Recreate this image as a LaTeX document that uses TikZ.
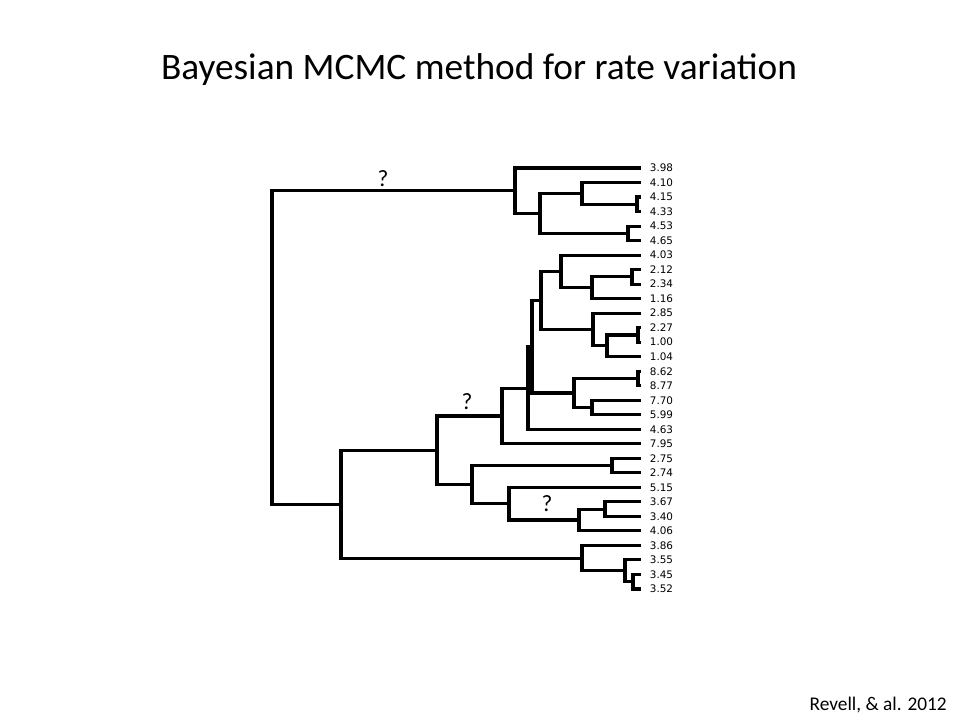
\documentclass[tikz,border=0pt]{standalone}
\usepackage{fontspec}
\setmainfont{Carlito}
\newfontfamily\tipfont{DejaVu Sans}
\usepackage{tikz}
\usetikzlibrary{positioning}

\begin{document}
\begin{tikzpicture}
[
	x=0.75pt, y=-0.75pt,
	node distance = 6.5pt,
	branch/.style={line width=2.3pt, line join=miter},
	tiplab/.style={inner sep=0pt, font=\tipfont\fontsize{7.8}{9}\selectfont},
	qmark/.style={anchor=base, inner sep=0pt, font=\fontsize{17.5}{20}\selectfont},
	title/.style={anchor=base, inner sep=0pt, font=\fontsize{28}{33}\selectfont}
  ]
	\useasboundingbox (0,0) rectangle (960,720);

	\node[title] (Title) at (479,80) {Bayesian MCMC method for rate variation};
	\node[anchor=base east, inner sep=0pt, font=\fontsize{14.5}{17}\selectfont] (Ref) at (947,710) {Revell, \& al. 2012};

	% tips and their values
	\foreach \lab [count=\i] in {3.98,4.10,4.15,4.33,4.53,4.65,4.03,2.12,2.34,1.16,2.85,2.27,1.00,1.04,8.62,8.77,7.70,5.99,4.63,7.95,2.75,2.74,5.15,3.67,3.40,4.06,3.86,3.55,3.45,3.52}
	{
		\coordinate (t\i) at (641,{168+(\i-1)*14.517});
		\node[tiplab, right=of t\i] (L\i) {\lab};
	}

	% inner nodes
	\coordinate (n34) at (637,204.3);
	\coordinate (n234) at (582,193.4);
	\coordinate (n56) at (628,233.4);
	\coordinate (nA2) at (540,213.4);
	\coordinate (nA) at (515,190.7);
	\coordinate (n89) at (632,276.9);
	\coordinate (n8910) at (592,287.8);
	\coordinate (n710) at (561,271.5);
	\coordinate (n1213) at (638,335.0);
	\coordinate (n1214) at (607,345.9);
	\coordinate (n1114) at (593,329.6);
	\coordinate (n714) at (541,300.6);
	\coordinate (n1516) at (638,378.5);
	\coordinate (n1718) at (592,407.6);
	\coordinate (n1518) at (574,393.0);
	\coordinate (n718) at (532,346.8);
	\coordinate (n719) at (528,388.1);
	\coordinate (n720) at (502,416.0);
	\coordinate (n2122) at (612,465.6);
	\coordinate (n2425) at (605,509.2);
	\coordinate (n2426) at (579,520.0);
	\coordinate (n2326) at (509,503.7);
	\coordinate (n2126) at (472,484.7);
	\coordinate (n726) at (437,450.4);
	\coordinate (n2930) at (633,581.8);
	\coordinate (n2830) at (625,570.9);
	\coordinate (n2730) at (582,558.2);
	\coordinate (nB) at (341,504.3);
	\coordinate (Root) at (272,347.5);

	\foreach \p/\c in {Root/nA, Root/nB,
		nA/t1, nA/nA2, nA2/n234, nA2/n56, n234/t2, n234/n34, n34/t3, n34/t4, n56/t5, n56/t6,
		nB/n726, nB/n2730, n726/n720, n726/n2126,
		n720/n719, n720/t20, n719/n718, n719/t19, n718/n714, n718/n1518,
		n714/n710, n714/n1114, n710/t7, n710/n8910, n8910/n89, n8910/t10, n89/t8, n89/t9,
		n1114/t11, n1114/n1214, n1214/n1213, n1214/t14, n1213/t12, n1213/t13,
		n1518/n1516, n1518/n1718, n1516/t15, n1516/t16, n1718/t17, n1718/t18,
		n2126/n2122, n2126/n2326, n2122/t21, n2122/t22, n2326/t23, n2326/n2426,
		n2426/n2425, n2426/t26, n2425/t24, n2425/t25,
		n2730/t27, n2730/n2830, n2830/t28, n2830/n2930, n2930/t29, n2930/t30}
		\draw[branch] (\p) |- (\c);

	\node[qmark] (Q1) at (383,186.5) {?};
	\node[qmark] (Q2) at (467,409) {?};
	\node[qmark] (Q3) at (547,511.5) {?};
\end{tikzpicture}
\end{document}
